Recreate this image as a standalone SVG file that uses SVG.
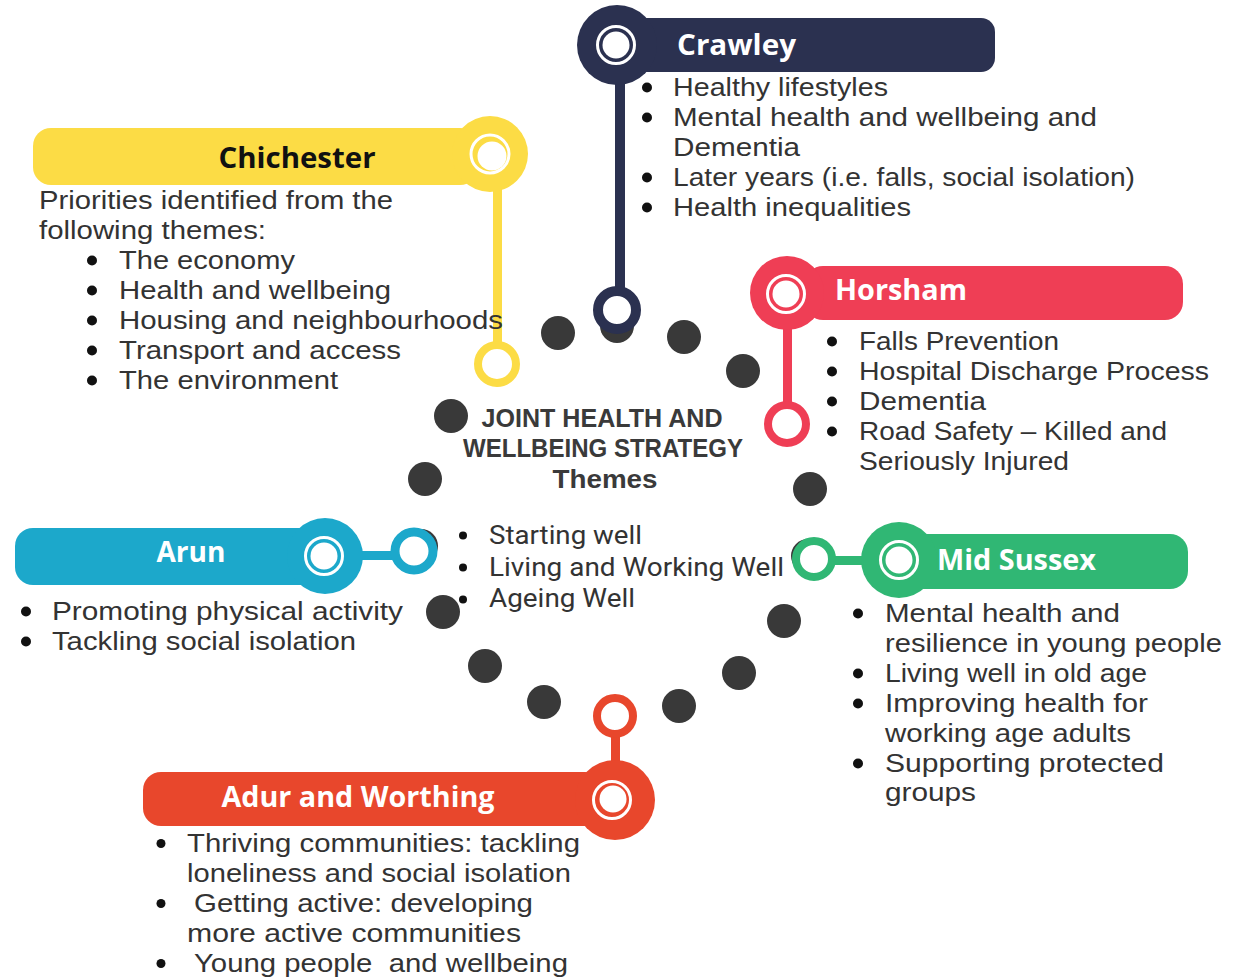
<svg xmlns="http://www.w3.org/2000/svg" width="1241" height="978" viewBox="0 0 1241 978">
<style>
.body{font-family:"Liberation Sans",Arial,sans-serif;font-size:26.5px;fill:#333333}
.lbl{font-family:"Open Sans","Liberation Sans",sans-serif;font-size:28px;font-weight:700;fill:#ffffff}
.ttl{font-family:"Liberation Sans",Arial,sans-serif;font-size:25px;font-weight:700;fill:#3a3a3a}
.ctr{font-family:Roboto,"Liberation Sans",sans-serif;font-size:26px;fill:#333333}
.dot{fill:#393939}
.bul{fill:#111111}
.icoRing{fill:none;stroke:#ffffff;stroke-width:3}
.icoDisc{fill:#ffffff}
.navy{fill:#2b3150}
.yellow{fill:#fcdc45}
.red{fill:#ef3e55}
.blue{fill:#1ca8cb}
.green{fill:#30b774}
.orange{fill:#e8472c}
</style>

<g id="dots">
  <circle class="dot" cx="558" cy="333" r="17"/>
  <circle class="dot" cx="617" cy="326" r="17"/>
  <circle class="dot" cx="684" cy="337" r="17"/>
  <circle class="dot" cx="743" cy="371" r="17"/>
  <circle class="dot" cx="451" cy="416" r="17"/>
  <circle class="dot" cx="425" cy="479" r="17"/>
  <circle class="dot" cx="421" cy="546" r="17"/>
  <circle class="dot" cx="810" cy="489" r="17"/>
  <circle class="dot" cx="808" cy="556" r="17"/>
  <circle class="dot" cx="443" cy="612" r="17"/>
  <circle class="dot" cx="485" cy="666" r="17"/>
  <circle class="dot" cx="544" cy="702" r="17"/>
  <circle class="dot" cx="679" cy="706" r="17"/>
  <circle class="dot" cx="739" cy="673" r="17"/>
  <circle class="dot" cx="784" cy="621" r="17"/>
</g>

<g id="connectors">
  <rect class="navy" x="615" y="78" width="10" height="214"/>
  <circle cx="617" cy="310" r="19" fill="#ffffff" stroke="#2b3150" stroke-width="10"/>
  <rect class="yellow" x="493" y="188" width="9" height="158"/>
  <circle cx="497" cy="364" r="19" fill="#ffffff" stroke="#fcdc45" stroke-width="8"/>
  <rect class="red" x="783" y="322" width="9" height="84"/>
  <circle cx="787" cy="424" r="19" fill="#ffffff" stroke="#ef3e55" stroke-width="8"/>
  <rect class="blue" x="358" y="551" width="40" height="9"/>
  <circle cx="414" cy="551" r="19" fill="#ffffff" stroke="#1ca8cb" stroke-width="9"/>
  <rect class="green" x="830" y="556" width="40" height="9"/>
  <circle cx="814" cy="559" r="18" fill="#ffffff" stroke="#30b774" stroke-width="8"/>
  <rect class="orange" x="611" y="733" width="9" height="32"/>
  <circle cx="615" cy="716" r="18" fill="#ffffff" stroke="#e8472c" stroke-width="8"/>
</g>

<g id="crawley">
  <rect class="navy" x="630" y="18" width="365" height="54" rx="14"/>
  <circle class="navy" cx="617" cy="45" r="40"/>
  <circle class="icoRing" cx="616" cy="45" r="18.5"/>
  <circle class="icoDisc" cx="616" cy="45" r="13.5"/>
  <text class="lbl" x="677" y="55" textLength="119" lengthAdjust="spacingAndGlyphs">Crawley</text>
  <circle class="bul" cx="647" cy="87.5" r="5"/>
  <circle class="bul" cx="647" cy="117.5" r="5"/>
  <circle class="bul" cx="647" cy="177.5" r="5"/>
  <circle class="bul" cx="647" cy="207.5" r="5"/>
  <text class="body" x="673" y="96" textLength="215" lengthAdjust="spacingAndGlyphs">Healthy lifestyles</text>
  <text class="body" x="673" y="126" textLength="424" lengthAdjust="spacingAndGlyphs">Mental health and wellbeing and</text>
  <text class="body" x="673" y="156" textLength="127" lengthAdjust="spacingAndGlyphs">Dementia</text>
  <text class="body" x="673" y="186" textLength="462" lengthAdjust="spacingAndGlyphs">Later years (i.e. falls, social isolation)</text>
  <text class="body" x="673" y="216" textLength="238" lengthAdjust="spacingAndGlyphs">Health inequalities</text>
</g>

<g id="chichester">
  <rect class="yellow" x="33" y="128" width="445" height="57" rx="18"/>
  <circle class="yellow" cx="490" cy="154" r="38"/>
  <circle class="icoRing" cx="490" cy="154" r="19"/>
  <circle class="icoDisc" cx="492" cy="156" r="14.5"/>
  <text class="lbl" x="297" y="168" text-anchor="middle" style="fill:#111111" textLength="157" lengthAdjust="spacingAndGlyphs">Chichester</text>
  <text class="body" x="39" y="209" textLength="354" lengthAdjust="spacingAndGlyphs">Priorities identified from the</text>
  <text class="body" x="39" y="239" textLength="227" lengthAdjust="spacingAndGlyphs">following themes:</text>
  <circle class="bul" cx="92" cy="260.5" r="5"/>
  <circle class="bul" cx="92" cy="290.5" r="5"/>
  <circle class="bul" cx="92" cy="320.5" r="5"/>
  <circle class="bul" cx="92" cy="350.5" r="5"/>
  <circle class="bul" cx="92" cy="380.5" r="5"/>
  <text class="body" x="119" y="269" textLength="176" lengthAdjust="spacingAndGlyphs">The economy</text>
  <text class="body" x="119" y="299" textLength="272" lengthAdjust="spacingAndGlyphs">Health and wellbeing</text>
  <text class="body" x="119" y="329" textLength="384" lengthAdjust="spacingAndGlyphs">Housing and neighbourhoods</text>
  <text class="body" x="119" y="359" textLength="282" lengthAdjust="spacingAndGlyphs">Transport and access</text>
  <text class="body" x="119" y="389" textLength="219" lengthAdjust="spacingAndGlyphs">The environment</text>
</g>

<g id="horsham">
  <rect class="red" x="805" y="266" width="378" height="54" rx="18"/>
  <circle class="red" cx="787" cy="293" r="37"/>
  <circle class="icoRing" cx="786" cy="294" r="18.5"/>
  <circle class="icoDisc" cx="786" cy="294" r="13.5"/>
  <text class="lbl" x="835" y="300" textLength="132" lengthAdjust="spacingAndGlyphs">Horsham</text>
  <circle class="bul" cx="832" cy="341.5" r="5"/>
  <circle class="bul" cx="832" cy="371.5" r="5"/>
  <circle class="bul" cx="832" cy="401.5" r="5"/>
  <circle class="bul" cx="832" cy="431.5" r="5"/>
  <text class="body" x="859" y="350" textLength="200" lengthAdjust="spacingAndGlyphs">Falls Prevention</text>
  <text class="body" x="859" y="380" textLength="350" lengthAdjust="spacingAndGlyphs">Hospital Discharge Process</text>
  <text class="body" x="859" y="410" textLength="127" lengthAdjust="spacingAndGlyphs">Dementia</text>
  <text class="body" x="859" y="440" textLength="308" lengthAdjust="spacingAndGlyphs">Road Safety – Killed and</text>
  <text class="body" x="859" y="470" textLength="210" lengthAdjust="spacingAndGlyphs">Seriously Injured</text>
</g>

<g id="arun">
  <rect class="blue" x="15" y="528" width="320" height="57" rx="18"/>
  <circle class="blue" cx="325" cy="556" r="38"/>
  <circle class="icoRing" cx="324" cy="556" r="18.5"/>
  <circle class="icoDisc" cx="324" cy="556" r="13.5"/>
  <text class="lbl" x="191" y="562" text-anchor="middle" textLength="69" lengthAdjust="spacingAndGlyphs">Arun</text>
  <circle class="bul" cx="26" cy="611.5" r="5"/>
  <circle class="bul" cx="26" cy="641.5" r="5"/>
  <text class="body" x="52" y="620" textLength="351" lengthAdjust="spacingAndGlyphs">Promoting physical activity</text>
  <text class="body" x="52" y="650" textLength="304" lengthAdjust="spacingAndGlyphs">Tackling social isolation</text>
</g>

<g id="midsussex">
  <rect class="green" x="880" y="534" width="308" height="55" rx="18"/>
  <circle class="green" cx="899" cy="560" r="38"/>
  <circle class="icoRing" cx="899" cy="560" r="18.5"/>
  <circle class="icoDisc" cx="899" cy="560" r="13.5"/>
  <text class="lbl" x="937" y="570" textLength="159" lengthAdjust="spacingAndGlyphs">Mid Sussex</text>
  <circle class="bul" cx="858" cy="613.5" r="5"/>
  <circle class="bul" cx="858" cy="673.5" r="5"/>
  <circle class="bul" cx="858" cy="703.5" r="5"/>
  <circle class="bul" cx="858" cy="763.5" r="5"/>
  <text class="body" x="885" y="622" textLength="235" lengthAdjust="spacingAndGlyphs">Mental health and</text>
  <text class="body" x="885" y="652" textLength="337" lengthAdjust="spacingAndGlyphs">resilience in young people</text>
  <text class="body" x="885" y="682" textLength="262" lengthAdjust="spacingAndGlyphs">Living well in old age</text>
  <text class="body" x="885" y="712" textLength="263" lengthAdjust="spacingAndGlyphs">Improving health for</text>
  <text class="body" x="885" y="742" textLength="246" lengthAdjust="spacingAndGlyphs">working age adults</text>
  <text class="body" x="885" y="772" textLength="279" lengthAdjust="spacingAndGlyphs">Supporting protected</text>
  <text class="body" x="885" y="801" textLength="91" lengthAdjust="spacingAndGlyphs">groups</text>
</g>

<g id="adur-worthing">
  <rect class="orange" x="143" y="772" width="460" height="54" rx="18"/>
  <circle class="orange" cx="615" cy="800" r="40"/>
  <circle class="icoRing" cx="612" cy="800" r="18.5"/>
  <circle class="icoDisc" cx="613" cy="799" r="13.5"/>
  <text class="lbl" x="358" y="807" text-anchor="middle" textLength="273" lengthAdjust="spacingAndGlyphs">Adur and Worthing</text>
  <circle class="bul" cx="161" cy="843.5" r="4.5"/>
  <circle class="bul" cx="161" cy="903.5" r="4.5"/>
  <circle class="bul" cx="161" cy="963.5" r="4.5"/>
  <text class="body" x="187" y="852" textLength="393" lengthAdjust="spacingAndGlyphs">Thriving communities: tackling</text>
  <text class="body" x="187" y="882" textLength="384" lengthAdjust="spacingAndGlyphs">loneliness and social isolation</text>
  <text class="body" x="194" y="912" textLength="339" lengthAdjust="spacingAndGlyphs">Getting active: developing</text>
  <text class="body" x="187" y="942" textLength="334" lengthAdjust="spacingAndGlyphs">more active communities</text>
  <text class="body" x="194" y="972" style="white-space:pre" textLength="374" lengthAdjust="spacingAndGlyphs">Young people  and wellbeing</text>
</g>

<g id="centre">
  <text class="ttl" x="602" y="427" text-anchor="middle" textLength="241" lengthAdjust="spacingAndGlyphs">JOINT HEALTH AND</text>
  <text class="ttl" x="603" y="457" text-anchor="middle" textLength="280" lengthAdjust="spacingAndGlyphs">WELLBEING STRATEGY</text>
  <text class="ttl" x="605" y="488" text-anchor="middle" textLength="105" lengthAdjust="spacingAndGlyphs">Themes</text>
  <circle class="bul" cx="463" cy="535.5" r="4"/>
  <circle class="bul" cx="463" cy="567.5" r="4"/>
  <circle class="bul" cx="463" cy="599.5" r="4"/>
  <text class="ctr" x="489" y="544" textLength="153" lengthAdjust="spacingAndGlyphs">Starting well</text>
  <text class="ctr" x="489" y="576" textLength="295" lengthAdjust="spacingAndGlyphs">Living and Working Well</text>
  <text class="ctr" x="489" y="607" textLength="146" lengthAdjust="spacingAndGlyphs">Ageing Well</text>
</g>
</svg>
